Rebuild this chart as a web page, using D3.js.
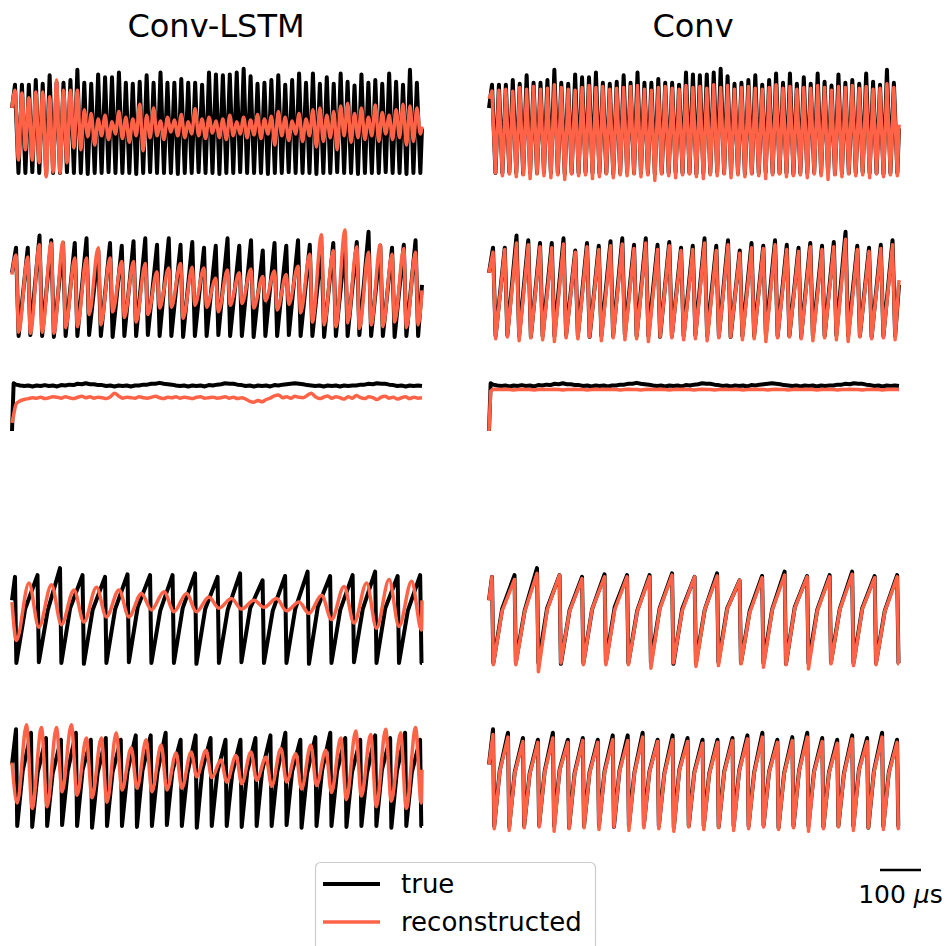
<!DOCTYPE html>
<html>
<head>
<meta charset="utf-8">
<script src="https://cdn.jsdelivr.net/npm/d3@7"></script>
<style>
  body { margin: 0; background: #fff; }
  svg { display: block; }
  text { font-family: "DejaVu Sans", sans-serif; fill: #000; }
</style>
</head>
<body>
<svg id="chart" width="950" height="946"></svg>
<script>
// ---------------- data ----------------
const columnTitles = ["Conv-LSTM", "Conv"];
const legendLabels = ["true", "reconstructed"];
const scaleBarValue = 100;           // µs
const duration = 1000;               // µs shown per trace

// per-cycle timing of each channel (first spike time and spike period, µs)
const row1Timing = { first: 7.3, period: 16.9 };
const row2Timing = { first: 9.8, period: 28.66 };
const row4Timing = { first: 7.3, period: 54.9 };
const row5Timing = { first: 9.8, period: 36.5 };

// channel 1: spike peaks / troughs (normalised units, trough = 0, typical peak = 100)
const row1TruePeaks = [95,95,95,100,96,105,97,97,100,111, 97,96,106,103,103,108,97,96,98,105, 97,108,97,97,101,97,97,95,108,106, 105,106,108,112,104,96,97,100,105,95, 100,107,97,107,96,103,96,107,98,94, 106,97,100,96,107,98,95,111,97];
const row1TrueTroughs = [0,0,1,0,-1,0,0,1,0,0, -1,0,0,1,0,0,0,-1,0,1, 0,0,0,-1,0,0,1,0,0,-1, 0,0,1,0,0,0,-1,0,0,1, 0,0,0,-1,0,0,1,0,0,-1, 0,0,0,1,0,0,-1,0,0];
const row1LstmPeaks = [89,86,81,87,87,82,100,89,89,89, 68,64,58,62,55,66,60,58,74,62, 70,56,60,57,63,55,69,58,60,56, 58,62,55,60,57,63,58,61,66,60, 56,64,58,68,70,62,66,72,75,64, 70,60,73,65,62,68,74,72,70];
const row1LstmTroughs = [14,25,14,11,-4,1,0,11,27,25, 39,30,40,36,42,37,33,40,24,38, 40,36,44,40,38,42,40,37,43,38, 36,40,42,38,41,37,42,30,40,35, 42,34,40,28,34,38,25,40,33,38, 36,40,34,42,36,38,30,34,42];
const row1ConvPeaks = [88,89,90,88,92,90,93,90,91,95, 92,90,89,92,94,92,93,90,91,92, 93,94,90,89,92,93,91,90,94,92, 93,91,95,92,94,90,92,93,91,90, 92,95,91,93,90,92,91,94,92,89, 93,92,94,91,93,90,91,96,92];
const row1ConvTroughs = [0,-3,-1,-4,-2,-6,-1,-3,-5,-2, -7,-1,-3,-2,-6,-4,-1,-5,-2,-3, -1,-4,-2,-8,-1,-3,-5,-2,-1,-4, -6,-2,-3,-1,-5,-2,-4,-1,-3,-6, -2,-1,-4,-3,-2,-5,-1,-3,-7,-2, -4,-1,-3,-2,-5,-1,-4,-2,-3];
const row1Ends = { true: [70, 48], lstm: [70, 50], conv: [80, 52] };

// channel 2
const row2TruePeaks = [95,95,108,103,100,100,105,92,100,97, 102,105,98,105,98,101,95,97,105,97, 103,92,100,97,103,98,95,100,97,101, 112,97,95,98,103];
const row2TrueTroughs = [0,1,0,-1,0,0,1,0,-1,0, 0,1,0,0,-1,0,0,1,0,0, -1,0,0,1,0,0,-1,0,0,1, 0,0,-1,0,0];
const row2LstmPeaks = [87,85,98,100,101,84,84,95,84,80, 80,78,69,73,78,74,73,62,71, 68,72,64,70,66,75,88,109,92,114, 96,90,98,88,94,90];
const row2LstmTroughs = [4,3,4,3,9,10,23,12,26,20, 15,23,30,31,19,33,31,26,33, 35,30,38,28,34,25,15,12,10,14, 8,12,10,15,9,12];
const row2ConvPeaks = [90,93,100,98,96,95,99,90,96,93, 97,99,94,100,93,97,92,93,100,92, 98,89,95,94,98,93,91,96,93,96, 104,93,91,94,98];
const row2ConvTroughs = [-3,-1,-5,-2,-4,-6,-2,-3,-1,-5, -2,-4,-3,-6,-1,-2,-4,-3,-5,-2, -1,-4,-3,-6,-2,-1,-3,-5,-2,-4, -6,-1,-3,-2,-4];
const row2Ends = { true: [68, 55], lstm: [66, 49], conv: [68, 60] };

// channel 3: slow level, sampled every 10 µs from 10 µs, onset samples at 0 and 4 µs
const row3OnsetTimes = [0, 4];
const row3Onset = { true: [0, 106], lstm: [18, 36], conv: [0, 88] };
const row3Step = 10;
const row3True = [103,101,100,101,99,101,100,102,100,101, 99,102,101,103,102,105,104,106,104,104, 102,102,100,101,99,101,100,101,99,101, 101,103,103,105,105,107,105,104,103,101, 100,101,99,101,100,101,99,102,101,103, 104,106,105,105,103,102,100,101,99,101, 100,101,99,102,101,103,104,105,106,105, 104,102,101,100,101,99,101,100,101,99, 101,100,101,101,103,103,105,104,106,105, 105,103,102,100,101,99,101,100,101,100];
const row3Lstm = [60,67,70,72,74,73,75,72,74,76, 75,73,76,74,72,75,77,74,76,73, 75,74,72,76,84,78,73,75,74,73, 76,74,73,75,77,74,72,75,74,76, 73,75,74,72,75,76,73,74,75,73, 74,76,73,75,72,74,71,66,64,68, 65,70,73,78,80,74,76,73,77,75, 74,79,84,76,72,75,78,73,76,74, 71,76,73,79,74,72,76,74,70,75, 77,73,75,71,74,76,72,75,73,74];
const row3Conv = [93,92,92,93,92,91,92,93,92,92, 91,92,93,92,92,93,92,91,92,92, 93,92,92,91,92,93,92,92,93,92, 92,91,92,93,92,92,91,92,93,92, 92,93,92,91,92,92,93,92,92,91, 92,93,92,92,91,92,93,92,92,93, 92,91,92,92,93,92,92,91,92,93, 92,92,91,92,93,92,92,93,92,91, 92,92,93,92,91,92,92,93,92,92, 91,92,93,92,92,91,92,93,92,92];

// channel 4: sawtooth peaks, troughs and mid-rise values
const row4TruePeaks = [99,101,109,101,99,102,101,101,103,99, 103,95,100,105,100,101,105,100,101];
const row4TrueTroughs = [0,1,0,-1,0,1,0,0,-1,0, 1,0,0,-1,0,1,0,0,0];
const row4TrueKnees = [62,60,63,61,62,64,60,63,62,61, 63,60,62,64,61,62,63,60,62];
const row4ConvPeaks = [99,96,103,101,97,99,99,99,101,99, 100,95,98,101,99,99,102,98,99];
const row4ConvTroughs = [-2,-2,-10,0,-2,-2,-2,-6,0,-4, -3,-1,-5,-2,-7,-1,-3,-2,-1];
const row4ConvKnees = [60,59,61,60,62,61,59,62,60,61, 62,58,61,63,60,61,62,59,61];
const row4LstmTroughs = [26,41,44,47,53,53,61,59,59,63, 62,64,60,57,50,46,40,42,38];
const row4LstmPeaks = [92,90,84,87,84,80,82,80,76,74, 72,74,70,78,88,92,96,94,90];
const row4Ends = { true: [72, 0], lstm: [70, 72], conv: [72, -1] };

// channel 5
const row5TruePeaks = [110,106,100,98,106,98,100,98,103,103, 106,98,103,100,98,98,100,103,106,98, 101,106,100,98,103,100,106,98];
const row5TrueTroughs = [0,-1,0,1,0,-2,0,0,-1,0, 1,0,-2,0,0,-1,0,0,1,-2, 0,0,-1,0,0,-2,0,0];
const row5TrueKnees = [63,61,60,62,64,60,61,62,63,61, 62,60,64,61,60,62,63,61,62,60, 63,62,61,60,64,62,61,60];
const row5ConvPeaks = [104,101,96,95,100,95,97,95,98,97, 101,96,98,96,94,95,97,99,101,95, 97,101,96,94,99,96,101,95];
const row5ConvTroughs = [-3,-5,-2,-1,-6,-3,-2,-4,-1,-5, -2,-3,-6,-1,-4,-2,-5,-3,-1,-4, -2,-6,-3,-1,-5,-2,-4,-3];
const row5ConvKnees = [62,60,59,61,63,59,60,61,62,60, 61,59,63,60,59,61,62,60,61,59, 62,61,60,59,63,61,60,59];
const row5LstmTroughs = [26,20,22,39,35,32,27,41,43,39, 41,43,56,55,50,48,52,45,50,42, 46,38,30,34,22,28,20,26];
const row5LstmPeaks = [115,112,112,115,100,100,106,89,98,92, 83,84,86,75,80,84,78,88,82,92, 86,100,108,104,110,106,112,104];
const row5Ends = { true: [70, 0], lstm: [72, 64], conv: [70, -1] };

// ---------------- series assembly ----------------
// lay per-cycle values out in time: each list sits at a fixed phase of the cycle
function cycleSeries(timing, phases, lists, ends) {
  const pts = [[0, ends[0]]];
  const n = d3.min(lists, l => l.length);
  for (let i = 0; i < n; i++) {
    phases.forEach((p, j) => {
      const t = timing.first + (i + p) * timing.period;
      if (t > 0 && t < duration) pts.push([t, lists[j][i]]);
    });
  }
  pts.push([duration, ends[1]]);
  return pts;
}
function gridSeries(onset, values) {
  const pts = row3OnsetTimes.map((t, i) => [t, onset[i]]);
  values.forEach((v, i) => pts.push([(i + 1) * row3Step, v]));
  return pts;
}

const rows = [
  { y0: 173, y100: 80,
    true: cycleSeries(row1Timing, [0, 0.5], [row1TruePeaks, row1TrueTroughs], row1Ends.true),
    lstm: cycleSeries(row1Timing, [0, 0.5], [row1LstmPeaks, row1LstmTroughs], row1Ends.lstm),
    conv: cycleSeries(row1Timing, [0, 0.5], [row1ConvPeaks, row1ConvTroughs], row1Ends.conv) },
  { y0: 336, y100: 243,
    true: cycleSeries(row2Timing, [0, 0.22], [row2TruePeaks, row2TrueTroughs], row2Ends.true),
    lstm: cycleSeries(row2Timing, [0, 0.22], [row2LstmPeaks, row2LstmTroughs], row2Ends.lstm),
    conv: cycleSeries(row2Timing, [0, 0.22], [row2ConvPeaks, row2ConvTroughs], row2Ends.conv) },
  { y0: 431, y100: 386,
    true: gridSeries(row3Onset.true, row3True),
    lstm: gridSeries(row3Onset.lstm, row3Lstm),
    conv: gridSeries(row3Onset.conv, row3Conv) },
  { y0: 663, y100: 576,
    true: cycleSeries(row4Timing, [0, 0.06, 0.45], [row4TruePeaks, row4TrueTroughs, row4TrueKnees], row4Ends.true),
    lstm: cycleSeries(row4Timing, [0.06, 0.62], [row4LstmTroughs, row4LstmPeaks], row4Ends.lstm),
    conv: cycleSeries(row4Timing, [0, 0.06, 0.45], [row4ConvPeaks, row4ConvTroughs, row4ConvKnees], row4Ends.conv) },
  { y0: 826, y100: 738,
    true: cycleSeries(row5Timing, [0, 0.08, 0.45], [row5TruePeaks, row5TrueTroughs, row5TrueKnees], row5Ends.true),
    lstm: cycleSeries(row5Timing, [0.08, 0.7], [row5LstmTroughs, row5LstmPeaks], row5Ends.lstm),
    conv: cycleSeries(row5Timing, [0, 0.08, 0.45], [row5ConvPeaks, row5ConvTroughs, row5ConvKnees], row5Ends.conv) }
];

// ---------------- drawing ----------------
const svg = d3.select("#chart");
const trueColor = "#000000";
const recColor = "#ff6347";
const panelRanges = [[12, 422], [489, 899]];
const titleX = [216, 693];

columnTitles.forEach((title, c) => {
  svg.append("text")
    .attr("x", titleX[c]).attr("y", 37)
    .attr("text-anchor", "middle")
    .style("font-size", "32px")
    .text(title);
});

panelRanges.forEach((range, c) => {
  const x = d3.scaleLinear().domain([0, duration]).range(range);
  const g = svg.append("g");
  rows.forEach(row => {
    const y = d3.scaleLinear().domain([0, 100]).range([row.y0, row.y100]);
    const line = d3.line().x(d => x(d[0])).y(d => y(d[1]));
    g.append("path")
      .attr("d", line.curve(d3.curveLinear)(row.true))
      .attr("fill", "none").attr("stroke", trueColor)
      .attr("stroke-width", 4).attr("stroke-linejoin", "round");
    const rec = c === 0 ? row.lstm : row.conv;
    const recLine = d3.line().x(d => x(d[0])).y(d => y(d[1]))
      .curve(c === 0 ? d3.curveMonotoneX : d3.curveLinear);
    g.append("path")
      .attr("d", recLine(rec))
      .attr("fill", "none").attr("stroke", recColor)
      .attr("stroke-width", 3.5).attr("stroke-linejoin", "round");
  });
});

// scale bar
const xBar = d3.scaleLinear().domain([0, duration]).range(panelRanges[1]);
const barLen = xBar(scaleBarValue) - xBar(0);
const barX0 = 880;
svg.append("line")
  .attr("x1", barX0).attr("x2", barX0 + barLen)
  .attr("y1", 870).attr("y2", 870)
  .attr("stroke", "#000").attr("stroke-width", 2.5);
const barText = svg.append("text")
  .attr("x", barX0 + barLen / 2).attr("y", 903)
  .attr("text-anchor", "middle")
  .style("font-size", "25px");
barText.append("tspan").text(scaleBarValue + " ");
barText.append("tspan").style("font-style", "italic").text("μ");
barText.append("tspan").text("s");

// legend
const legend = svg.append("g");
legend.append("rect")
  .attr("x", 315.5).attr("y", 862.5).attr("width", 280).attr("height", 110)
  .attr("rx", 5).attr("fill", "#fff").attr("fill-opacity", 0.8)
  .attr("stroke", "#cccccc").attr("stroke-width", 1.2);
const legendRows = [
  { label: legendLabels[0], color: trueColor, width: 4, y: 884 },
  { label: legendLabels[1], color: recColor, width: 3.5, y: 922 }
];
legendRows.forEach(r => {
  legend.append("line")
    .attr("x1", 323).attr("x2", 380).attr("y1", r.y).attr("y2", r.y)
    .attr("stroke", r.color).attr("stroke-width", r.width);
  legend.append("text")
    .attr("x", 401).attr("y", r.y + 9)
    .style("font-size", "26px")
    .text(r.label);
});
</script>
</body>
</html>
